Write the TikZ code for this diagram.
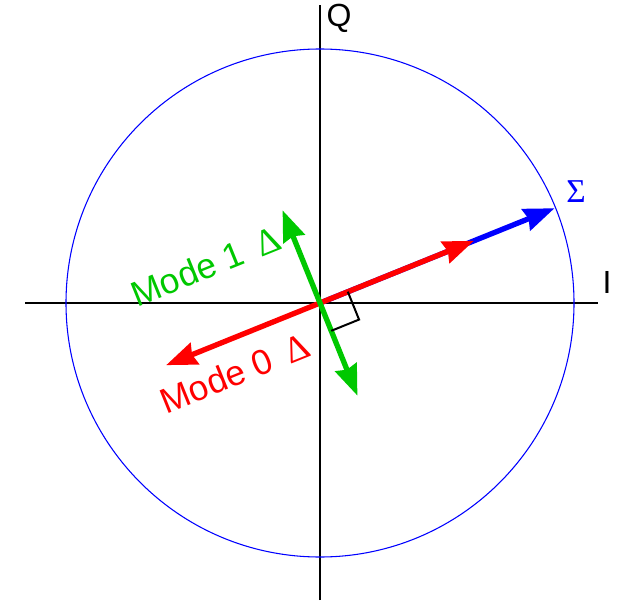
\documentclass[tikz,border=0pt]{standalone}
\usepackage{fontspec}
\setmainfont{Liberation Sans}
\newfontfamily\grk{Liberation Serif}
\usetikzlibrary{calc,arrows.meta}
\definecolor{pgreen}{RGB}{0,200,0}
\begin{document}
\begin{tikzpicture}[x=0.75pt,y=0.75pt,
  axis/.style={draw=black,line width=0.8pt},
  vec/.style={line width=4pt,-{Stealth[length=23pt,width=17pt,inset=2pt]}},
  dvec/.style={line width=4pt,{Stealth[length=23pt,width=17pt,inset=2pt]}-{Stealth[length=23pt,width=17pt,inset=2pt]}},
  lab/.style={font=\fontsize{24}{28}\selectfont,inner sep=0pt},
  mlab/.style={font=\fontsize{26.5}{30}\selectfont,inner sep=0pt,rotate=22}]
\useasboundingbox (0,0) rectangle (620,604);
\coordinate (C) at (320,301);
% axes
\coordinate (xl) at (25,301);
\coordinate (xr) at (598,301);
\coordinate (yt) at (320,599);
\coordinate (yb) at (320,4);
\draw[axis] (xl) -- (xr);
\draw[axis] (yb) -- (yt);
% circle
\draw[blue,line width=0.8pt] (C) circle (254);
% labels
\node[lab] (Q) at (339,586) {Q};
\node[lab] (I) at (607,322) {I};
\node[lab,text=blue,font=\fontsize{25}{28}\selectfont] (S) at (576,412) {\grk Σ};
% vectors
\coordinate (B) at ($(C)+(22:253)$);
\coordinate (R1) at ($(C)+(22:166)$);
\coordinate (R0) at ($(C)+(202:166)$);
\coordinate (G1) at ($(C)+(112:100)$);
\coordinate (G0) at ($(C)+(292:100)$);
\draw[vec,blue] (C) -- (B);
\draw[dvec,red] (R0) -- (R1);
\draw[dvec,pgreen] (G0) -- (G1);
% right angle
\coordinate (ra1) at ($(C)+(22:30)$);
\coordinate (ra2) at ($(C)+(22:30)+(292:30)$);
\coordinate (ra3) at ($(C)+(292:30)$);
\draw[black,line width=1.5pt] (ra1) -- (ra2) -- (ra3);
% mode labels
\node[mlab,text=pgreen] (m1) at (206,338) {Mode 1\hspace{0.45em}{\grk\fontsize{28}{30}\selectfont Δ}};
\node[mlab,text=red] (m0) at (235,231) {Mode 0\hspace{0.45em}{\grk\fontsize{28}{30}\selectfont Δ}};
\end{tikzpicture}
\end{document}
